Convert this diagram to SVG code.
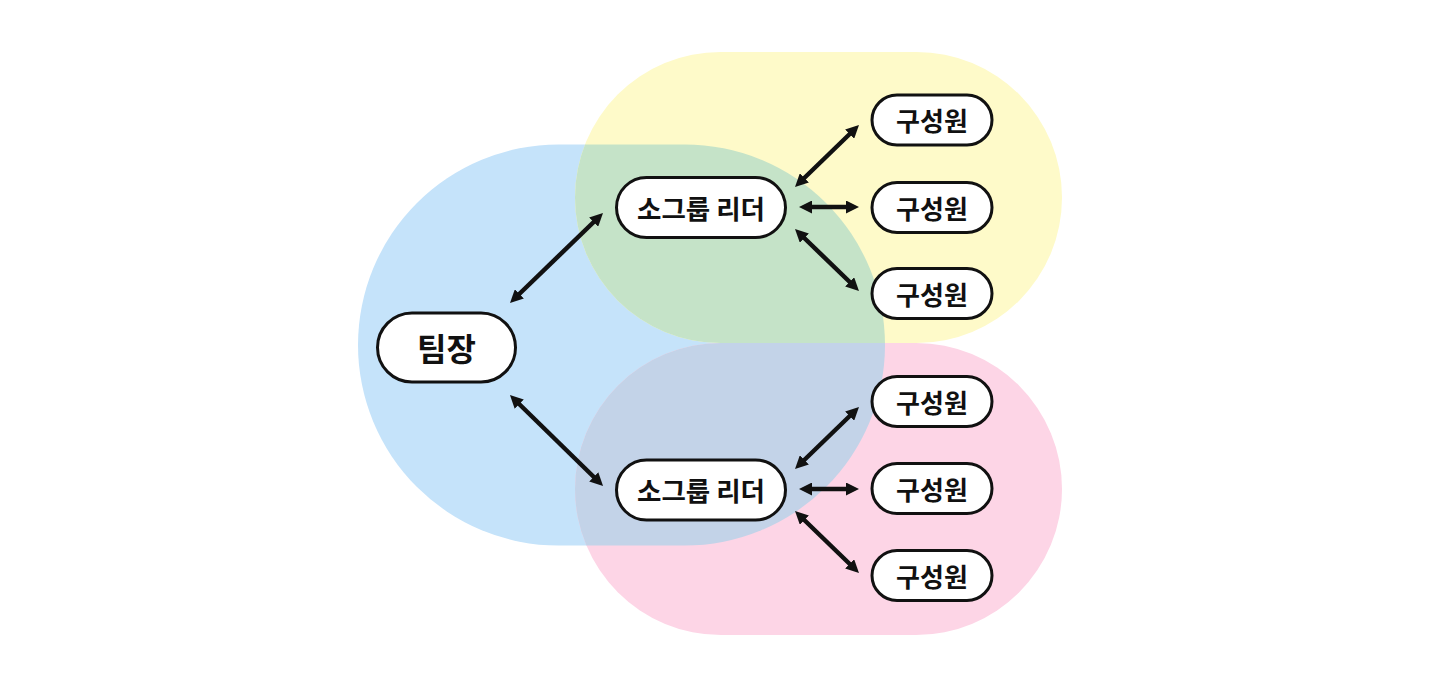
<svg xmlns="http://www.w3.org/2000/svg" width="1440" height="686" viewBox="0 0 1440 686">
<style>
.node rect{fill:#fff;stroke:#111;stroke-width:3}
.node text{font-family:"Noto Sans CJK KR","Noto Sans",sans-serif;font-weight:700;fill:#111;text-anchor:middle;dominant-baseline:central}
.conn line{stroke:#111;stroke-width:4.5;marker-start:url(#ah);marker-end:url(#ah)}
</style>
<defs>
<marker id="ah" markerUnits="userSpaceOnUse" markerWidth="14" markerHeight="13" viewBox="0 0 14 13" refX="3" refY="6.5" orient="auto-start-reverse">
<path d="M0,0 L13,6.5 L0,13 Z" fill="#111"/>
</marker>
<rect id="blueShape" x="358" y="144.5" width="527" height="401" rx="200.5"/>
<clipPath id="clipBlue"><use href="#blueShape"/></clipPath>
</defs>
<rect width="1440" height="686" fill="#fff"/>
<g id="areas">
<rect x="358" y="144.5" width="527" height="401" rx="200.5" fill="#C5E3FA"/>
<rect x="575" y="52" width="487" height="291" rx="145.5" fill="#FEFAC9"/>
<rect x="575" y="343" width="487" height="292" rx="146" fill="#FDD5E6"/>
<g clip-path="url(#clipBlue)">
<rect x="575" y="52" width="487" height="291" rx="145.5" fill="#C5E3C8"/>
<rect x="575" y="343" width="487" height="292" rx="146" fill="#C3D3E8"/>
</g>
</g>
<g id="connectors" class="conn">
<line x1="517.2" y1="296" x2="595.8" y2="220"/>
<line x1="517.1" y1="402" x2="595.9" y2="479"/>
<line x1="802.2" y1="180" x2="851.8" y2="132"/>
<line x1="809" y1="207" x2="849" y2="207"/>
<line x1="802.2" y1="236" x2="851.8" y2="284"/>
<line x1="802.2" y1="462" x2="851.8" y2="414"/>
<line x1="809" y1="489" x2="849" y2="489"/>
<line x1="802.2" y1="518" x2="851.8" y2="566"/>
</g>
<g id="teamLeader" class="node">
<rect x="377.5" y="313" width="138" height="69" rx="34.5"/>
<text x="446.5" y="347" font-size="32">팀장</text>
</g>
<g id="leaderTop" class="node">
<rect x="616.5" y="177.5" width="169" height="60" rx="30"/>
<text x="701" y="207" font-size="26.5">소그룹 리더</text>
</g>
<g id="leaderBottom" class="node">
<rect x="616.5" y="460" width="169" height="60" rx="30"/>
<text x="701" y="489.5" font-size="26.5">소그룹 리더</text>
</g>
<g id="member1" class="node"><rect x="872" y="95" width="120" height="50" rx="25"/><text x="932" y="119.5" font-size="26">구성원</text></g>
<g id="member2" class="node"><rect x="872" y="182.5" width="120" height="50" rx="25"/><text x="932" y="207" font-size="26">구성원</text></g>
<g id="member3" class="node"><rect x="872" y="268.5" width="120" height="50" rx="25"/><text x="932" y="293" font-size="26">구성원</text></g>
<g id="member4" class="node"><rect x="872" y="376.5" width="120" height="50" rx="25"/><text x="932" y="401" font-size="26">구성원</text></g>
<g id="member5" class="node"><rect x="872" y="463.5" width="120" height="50" rx="25"/><text x="932" y="488" font-size="26">구성원</text></g>
<g id="member6" class="node"><rect x="872" y="550.5" width="120" height="50" rx="25"/><text x="932" y="575" font-size="26">구성원</text></g>
</svg>
